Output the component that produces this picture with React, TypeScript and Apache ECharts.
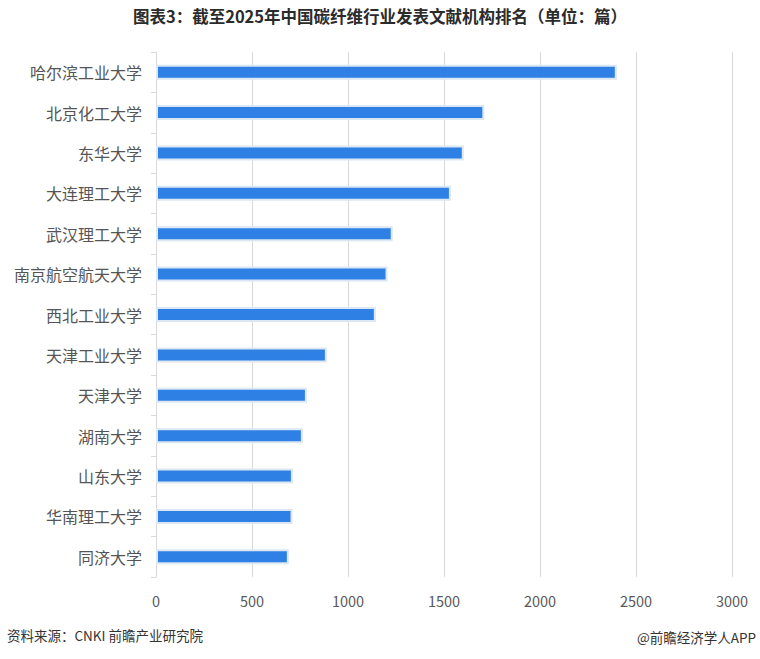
import React, { useEffect, useRef } from "react";
import * as echarts from "echarts";

const categories = [
  "哈尔滨工业大学",
  "北京化工大学",
  "东华大学",
  "大连理工大学",
  "武汉理工大学",
  "南京航空航天大学",
  "西北工业大学",
  "天津工业大学",
  "天津大学",
  "湖南大学",
  "山东大学",
  "华南理工大学",
  "同济大学",
];
const values = [2400, 1710, 1603, 1536, 1233, 1206, 1145, 890, 786, 765, 713, 711, 692];
const xTicks = [0, 500, 1000, 1500, 2000, 2500, 3000];

const title = "图表3：截至2025年中国碳纤维行业发表文献机构排名（单位：篇）";
const source = "资料来源：CNKI 前瞻产业研究院";
const credit = "@前瞻经济学人APP";

export default function App() {
  const ref = useRef<HTMLDivElement>(null);
  useEffect(() => {
    if (!ref.current) return;
    document.body.style.margin = "0";
    const chart = echarts.init(ref.current, null, { renderer: "svg" });
    const font = '"Noto Sans CJK SC", "Noto Sans", sans-serif';
    chart.setOption({
      animation: false,
      backgroundColor: "#ffffff",
      textStyle: { fontFamily: font },
      graphic: [
        {
          type: "text",
          left: "center",
          top: 8,
          style: { text: title, font: `bold 16.5px ${font}`, fill: "#2b2b2b" },
        },
        {
          type: "text",
          left: 7,
          top: 628,
          style: { text: source, font: `13.5px ${font}`, fill: "#333333" },
        },
        {
          type: "text",
          x: 756,
          y: 637,
          style: {
            text: credit,
            font: `13.5px ${font}`,
            fill: "#333333",
            textAlign: "right",
            textVerticalAlign: "middle",
          },
        },
      ],
      grid: { left: 156, right: 28, top: 52, bottom: 82 },
      xAxis: {
        type: "value",
        min: 0,
        max: 3000,
        interval: 500,
        axisLine: { show: false },
        axisTick: { show: false },
        splitLine: { show: true, lineStyle: { color: "#d9d9d9", width: 1 } },
        axisLabel: {
          color: "#595959",
          fontSize: 14.5,
          margin: 16,
          fontFamily: font,
          formatter: (v: number) => (xTicks.includes(v) ? String(v) : ""),
        },
      },
      yAxis: {
        type: "category",
        data: categories,
        inverse: true,
        axisLine: { show: true, lineStyle: { color: "#d9d9d9" } },
        axisTick: { show: true, alignWithLabel: false, length: 5, lineStyle: { color: "#d9d9d9" } },
        axisLabel: { color: "#555555", fontSize: 16, margin: 14, fontFamily: font },
      },
      series: [
        {
          type: "bar",
          data: values,
          barWidth: 15,
          itemStyle: { color: "#2f80e4", borderColor: "#dce7f4", borderWidth: 2 },
        },
      ],
    });
    return () => chart.dispose();
  }, []);
  return (
    <div
      ref={ref}
      style={{ position: "fixed", left: 0, top: 0, width: 760, height: 659 }}
    />
  );
}
